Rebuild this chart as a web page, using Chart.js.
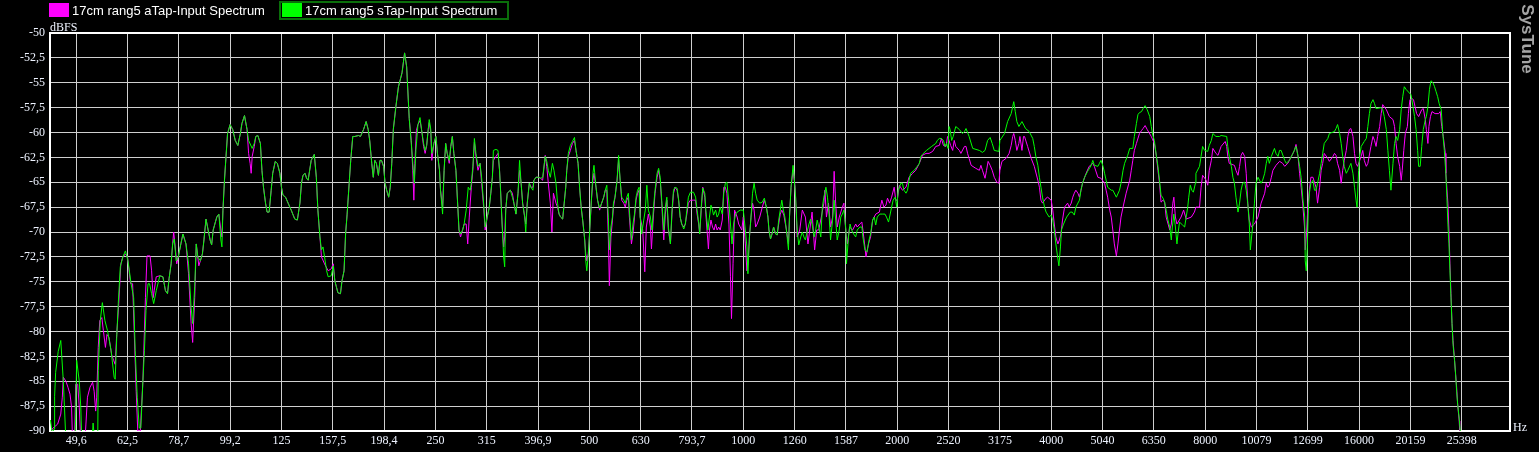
<!DOCTYPE html>
<html>
<head>
<meta charset="utf-8">
<title>Input Spectrum</title>
<script src="https://cdn.jsdelivr.net/npm/chart.js@4.4.1/dist/chart.umd.min.js"></script>
<style>
  html, body { margin: 0; padding: 0; background: #000; }
  #wrap { position: relative; width: 1539px; height: 452px; overflow: hidden; background: #000; }
  #chart { position: absolute; left: 0; top: 0; }
  .swatch { position: absolute; width: 20px; height: 14px; top: 3px; }
  .lgText { position: absolute; top: 3px; line-height: 16px; font: 13px "Liberation Sans", Arial, sans-serif; color: #fff; white-space: nowrap; }
  #lgBox { position: absolute; left: 279px; top: 1px; width: 230px; height: 19px; box-sizing: border-box; border: 2px solid #0a6e0a; }
  .axisName { position: absolute; font: 12px "Liberation Serif", "Times New Roman", serif; color: #eef3ff; line-height: 14px; }
  #brand { position: absolute; left: 1487px; top: 30px; width: 82px; height: 18px; line-height: 18px; text-align: center;
           font: bold 17px "Liberation Sans", Arial, sans-serif; color: #a4a4a4; transform: rotate(90deg); transform-origin: 41px 9px; }
</style>
</head>
<body>
<div id="wrap">
  <canvas id="chart" width="1539" height="452"></canvas>
  <div id="lgBox"></div>
  <div class="swatch" style="left:49px; background:#ff00ff;"></div>
  <div class="lgText" id="lg0" style="left:72px;"></div>
  <div class="swatch" style="left:282px; background:#00ff00;"></div>
  <div class="lgText" id="lg1" style="left:305px;"></div>
  <div class="axisName" style="left:50px; top:20px;">dBFS</div>
  <div class="axisName" style="left:1513px; top:420px;">Hz</div>
  <div id="brand">SysTune</div>
</div>
<script>
// x values are third-octave band numbers relative to 1 kHz (0 = 1000 Hz)
const seriesNames = ['17cm rang5 aTap-Input Spectrum', '17cm rang5 sTap-Input Spectrum'];
const bandTicks = [-13,-12,-11,-10,-9,-8,-7,-6,-5,-4,-3,-2,-1,0,1,2,3,4,5,6,7,8,9,10,11,12,13,14];
const freqLabels = ['49,6','62,5','78,7','99,2','125','157,5','198,4','250','315','396,9','500','630','793,7',
  '1000','1260','1587','2000','2520','3175','4000','5040','6350','8000','10079','12699','16000','20159','25398'];
const dbRange = [-90, -50];

// [band, dBFS]
const sTap = [
  [-13.53,-89.6],[-13.50,-88.9],[-13.47,-90.2],[-13.43,-89.8],[-13.42,-86.5],[-13.40,-84.1],[-13.35,-82.0],[-13.30,-80.9],[-13.25,-85.0],[-13.20,-91],[-13.02,-91],
  [-12.99,-82.9],[-12.94,-85.0],[-12.91,-87.6],[-12.89,-91],[-12.69,-91],[-12.67,-89.2],[-12.64,-91],[-12.58,-91],[-12.57,-83.9],[-12.53,-78.9],[-12.49,-77.1],
  [-12.44,-78.9],[-12.39,-79.9],[-12.32,-81.9],[-12.26,-84.6],[-12.24,-84.8],[-12.21,-80.6],[-12.18,-77.2],[-12.14,-73.5],[-12.09,-72.5],[-12.04,-71.9],
  [-11.99,-72.9],[-11.93,-75.2],[-11.88,-76.6],[-11.85,-81.9],[-11.81,-86.6],[-11.77,-89.7],[-11.74,-89.7],[-11.70,-85.0],[-11.67,-81.9],[-11.64,-77.9],
  [-11.60,-75.2],[-11.57,-75.2],[-11.53,-76.2],[-11.49,-77.2],[-11.44,-75.9],[-11.37,-74.4],[-11.31,-74.5],[-11.26,-75.9],[-11.22,-76.2],[-11.19,-74.7],
  [-11.15,-73.2],[-11.12,-71.2],[-11.09,-70.7],[-11.05,-72.9],[-11.01,-72.5],[-10.96,-71.2],[-10.92,-70.2],[-10.86,-71.2],[-10.81,-73.2],[-10.76,-77.6],
  [-10.73,-79.2],[-10.69,-75.5],[-10.66,-71.2],[-10.63,-72.5],[-10.58,-72.9],[-10.54,-72.2],[-10.51,-70.8],[-10.47,-68.7],[-10.44,-69.5],[-10.39,-70.8],
  [-10.36,-71.3],[-10.33,-69.8],[-10.26,-68.5],[-10.22,-68.2],[-10.18,-70.8],[-10.16,-71.5],[-10.14,-67.8],[-10.11,-64.8],[-10.08,-62.4],[-10.05,-60.1],
  [-10.00,-59.2],[-9.95,-59.7],[-9.90,-60.8],[-9.85,-61.3],[-9.80,-60.1],[-9.77,-59.1],[-9.72,-58.3],[-9.67,-59.7],[-9.64,-60.8],[-9.57,-61.6],[-9.53,-61.1],
  [-9.50,-60.4],[-9.46,-60.3],[-9.41,-61.1],[-9.38,-63.8],[-9.35,-65.5],[-9.31,-67.1],[-9.28,-68.0],[-9.24,-68.0],[-9.20,-65.8],[-9.17,-64.1],[-9.12,-62.9],
  [-9.08,-63.1],[-9.03,-64.1],[-9.00,-65.5],[-8.97,-66.3],[-8.92,-66.5],[-8.87,-67.1],[-8.81,-67.8],[-8.74,-68.7],[-8.69,-68.8],[-8.64,-67.1],[-8.61,-65.1],
  [-8.58,-64.3],[-8.54,-64.1],[-8.51,-64.6],[-8.48,-64.8],[-8.45,-63.8],[-8.42,-62.8],[-8.36,-62.2],[-8.32,-64.5],[-8.29,-67.8],[-8.25,-70.5],[-8.22,-71.8],
  [-8.19,-71.5],[-8.16,-72.5],[-8.12,-73.9],[-8.09,-74.5],[-8.03,-74.4],[-7.99,-73.4],[-7.96,-74.9],[-7.93,-75.5],[-7.90,-76.1],[-7.85,-76.2],[-7.82,-74.9],
  [-7.78,-73.9],[-7.75,-70.2],[-7.72,-68.2],[-7.68,-65.1],[-7.65,-62.8],[-7.61,-60.4],[-7.57,-60.4],[-7.50,-60.3],[-7.46,-60.4],[-7.40,-59.7],[-7.35,-58.9],
  [-7.31,-59.7],[-7.28,-60.8],[-7.24,-63.1],[-7.21,-64.5],[-7.18,-62.8],[-7.15,-63.1],[-7.11,-64.3],[-7.08,-62.8],[-7.05,-62.8],[-7.01,-63.4],[-6.98,-65.1],
  [-6.95,-65.8],[-6.91,-66.5],[-6.88,-65.5],[-6.85,-63.1],[-6.82,-59.7],[-6.77,-57.4],[-6.72,-55.4],[-6.65,-54.0],[-6.60,-52.0],[-6.56,-53.4],[-6.51,-58.6],
  [-6.47,-61.1],[-6.44,-63.1],[-6.41,-65.1],[-6.38,-61.8],[-6.34,-59.2],
  [-6.30,-58.5],[-6.27,-59.7],[-6.23,-61.1],[-6.20,-61.8],[-6.17,-61.3],[-6.14,-59.7],[-6.12,-58.7],[-6.09,-59.7],[-6.07,-62.1],[-6.03,-61.1],[-5.99,-60.4],
  [-5.96,-62.1],[-5.92,-63.8],[-5.90,-65.8],[-5.86,-68.2],[-5.83,-63.8],[-5.80,-61.1],[-5.77,-62.1],[-5.73,-62.8],[-5.70,-61.4],[-5.67,-60.4],[-5.64,-62.1],
  [-5.60,-63.8],[-5.57,-66.8],[-5.54,-69.8],[-5.51,-70.2],[-5.47,-69.8],[-5.44,-69.2],[-5.40,-67.8],[-5.36,-65.5],[-5.32,-65.8],[-5.30,-65.1],[-5.27,-63.4],
  [-5.24,-60.6],[-5.21,-62.1],[-5.17,-63.4],[-5.13,-63.1],[-5.10,-64.5],[-5.06,-67.1],[-5.03,-69.5],[-4.99,-68.5],[-4.95,-67.5],[-4.92,-66.1],[-4.89,-64.5],
  [-4.87,-61.8],[-4.82,-61.7],[-4.78,-61.8],[-4.75,-63.8],[-4.73,-65.8],[-4.70,-69.2],[-4.67,-72.5],[-4.65,-73.5],[-4.63,-67.8],[-4.60,-66.1],[-4.54,-65.8],
  [-4.50,-66.5],[-4.47,-67.1],[-4.43,-68.2],[-4.39,-66.1],[-4.36,-62.8],[-4.33,-65.1],[-4.30,-67.1],[-4.26,-68.5],[-4.24,-70.0],[-4.21,-67.1],[-4.17,-65.1],
  [-4.14,-65.5],[-4.10,-65.8],[-4.08,-64.8],[-4.04,-64.5],[-3.99,-64.5],[-3.95,-64.6],[-3.91,-64.5],[-3.86,-62.4],[-3.83,-62.9],[-3.80,-63.8],[-3.76,-64.5],
  [-3.72,-63.1],[-3.69,-63.8],[-3.65,-65.1],[-3.62,-67.1],[-3.59,-68.2],[-3.56,-68.5],[-3.52,-68.7],[-3.49,-67.1],[-3.46,-65.5],[-3.44,-63.8],[-3.41,-62.1],
  [-3.37,-61.3],[-3.33,-60.9],[-3.29,-60.5],[-3.26,-61.8],[-3.22,-63.1],[-3.19,-65.5],[-3.16,-67.5],[-3.13,-68.8],[-3.09,-70.8],[-3.07,-72.9],[-3.05,-73.9],
  [-3.02,-72.2],[-3.00,-70.5],[-2.96,-66.8],[-2.93,-64.1],[-2.91,-63.3],[-2.87,-65.5],[-2.84,-66.8],[-2.80,-67.6],[-2.76,-67.1],[-2.72,-66.5],[-2.69,-65.8],
  [-2.66,-65.3],[-2.63,-68.5],[-2.61,-71.8],[-2.58,-69.5],[-2.55,-68.5],[-2.53,-67.1],[-2.50,-66.5],[-2.46,-64.8],[-2.43,-62.3],[-2.40,-64.8],[-2.37,-66.5],
  [-2.33,-66.8],[-2.30,-67.1],[-2.27,-66.5],[-2.24,-66.1],[-2.22,-67.8],[-2.18,-70.8],[-2.15,-69.2],[-2.12,-68.2],[-2.09,-66.5],[-2.06,-65.8],[-2.03,-65.5],
  [-2.01,-68.5],[-1.98,-70.2],[-1.94,-68.8],[-1.91,-67.8],[-1.88,-65.3],[-1.85,-67.8],[-1.81,-68.5],[-1.78,-69.8],[-1.75,-67.5],[-1.72,-65.8],[-1.68,-64.1],
  [-1.65,-63.6],[-1.62,-64.5],[-1.59,-66.8],[-1.55,-69.8],[-1.52,-67.5],[-1.49,-66.5],[-1.46,-69.5],[-1.42,-71.2],[-1.39,-67.8],[-1.36,-65.8],[-1.33,-65.5],
  [-1.29,-65.6],[-1.26,-66.8],[-1.23,-68.5],[-1.20,-69.2],[-1.16,-69.7],[-1.13,-69.2],[-1.10,-67.8],[-1.07,-66.5],[-1.03,-66.0],[-0.97,-66.0],[-0.93,-66.5],
  [-0.90,-67.8],[-0.87,-69.0],[-0.85,-70.2],[-0.82,-67.5],[-0.79,-65.6],[-0.75,-66.1],[-0.73,-67.8],[-0.69,-69.8],[-0.66,-68.5],[-0.63,-67.3],[-0.60,-67.8],
  [-0.58,-68.3],[-0.54,-67.8],[-0.51,-68.5],[-0.48,-68.2],[-0.45,-67.5],[-0.41,-68.2],[-0.38,-66.1],[-0.35,-65.1],[-0.32,-65.0],[-0.28,-67.1],[-0.25,-69.2],
  [-0.22,-71.2],[-0.19,-69.2],[-0.15,-68.2],[-0.12,-68.0],[-0.06,-67.8],[0.00,-67.8],[0.04,-69.8],[0.07,-71.5],[0.09,-74.2],[0.12,-70.5],[0.15,-68.5],
  [0.18,-66.1],[0.21,-65.1],[0.24,-66.1],[0.27,-66.8],[0.32,-67.1],[0.37,-67.0],[0.41,-66.6],[0.45,-67.5],[0.48,-68.5],[0.50,-69.8],[0.53,-70.7],[0.56,-70.2],
  [0.59,-69.5],[0.63,-70.2],[0.66,-70.3],[0.69,-68.8],[0.72,-67.8],
  [0.75,-66.8],[0.78,-67.8],[0.81,-68.5],[0.84,-69.8],[0.88,-71.8],[0.90,-68.5],[0.93,-65.5],[0.97,-63.3],[0.99,-64.5],[1.02,-66.5],[1.05,-69.8],[1.08,-71.3],
  [1.12,-70.5],[1.15,-70.0],[1.18,-70.5],[1.21,-70.8],[1.25,-69.8],[1.28,-69.2],[1.31,-68.7],[1.34,-69.2],[1.38,-70.5],[1.41,-69.8],[1.44,-68.8],[1.47,-69.5],
  [1.51,-70.5],[1.54,-67.5],[1.57,-66.5],[1.61,-65.5],[1.64,-66.5],[1.67,-68.2],[1.70,-70.8],[1.74,-68.8],[1.77,-66.8],[1.80,-68.8],[1.83,-70.8],[1.87,-69.8],
  [1.90,-68.5],[1.93,-68.2],[1.96,-67.8],[2.00,-69.8],[2.01,-73.2],[2.05,-70.5],[2.08,-69.2],[2.11,-69.8],[2.15,-70.2],[2.19,-70.5],[2.22,-69.8],[2.27,-69.5],
  [2.31,-69.5],[2.33,-70.5],[2.37,-71.8],[2.41,-72.0],[2.45,-70.8],[2.48,-70.2],[2.52,-68.8],[2.55,-68.5],[2.58,-69.3],[2.61,-68.5],[2.66,-68.2],[2.71,-68.2],
  [2.76,-68.2],[2.79,-68.5],[2.83,-69.0],[2.85,-68.5],[2.89,-67.5],[2.92,-66.8],[2.96,-66.5],[2.99,-67.5],[3.02,-65.8],[3.07,-65.1],[3.10,-65.1],[3.13,-65.8],
  [3.17,-66.1],[3.20,-65.8],[3.23,-64.8],[3.26,-64.1],[3.33,-63.8],[3.39,-63.4],[3.43,-63.1],[3.46,-62.4],[3.49,-62.2],[3.57,-61.8],[3.67,-61.4],[3.75,-61.1],
  [3.78,-60.8],[3.82,-60.6],[3.86,-60.6],[3.90,-60.8],[3.93,-61.4],[3.96,-61.1],[3.99,-61.6],[4.01,-59.4],[4.03,-59.7],[4.06,-60.8],[4.09,-60.4],[4.14,-59.4],
  [4.21,-59.7],[4.27,-60.1],[4.31,-59.9],[4.34,-59.6],[4.40,-60.4],[4.47,-61.6],[4.60,-61.8],[4.66,-62.0],[4.71,-61.8],[4.76,-60.8],[4.81,-60.5],[4.85,-61.1],
  [4.89,-61.8],[4.98,-61.9],[5.00,-60.8],[5.09,-60.1],[5.15,-58.9],[5.22,-58.1],[5.25,-57.4],[5.27,-56.9],[5.30,-57.9],[5.33,-58.9],[5.37,-59.4],[5.43,-58.9],
  [5.50,-59.6],[5.57,-59.9],[5.64,-60.6],[5.67,-61.4],[5.70,-62.4],[5.74,-63.3],[5.77,-64.5],[5.80,-65.5],[5.83,-66.5],[5.87,-67.5],[5.90,-68.0],[5.96,-68.5],
  [6.00,-68.3],[6.03,-68.8],[6.06,-69.8],[6.09,-71.2],[6.13,-72.7],[6.15,-73.4],[6.18,-71.5],[6.20,-69.8],[6.24,-69.2],[6.30,-68.5],[6.37,-68.0],[6.41,-68.0],
  [6.45,-68.3],[6.48,-67.5],[6.55,-66.8],[6.58,-65.8],[6.61,-65.1],[6.65,-64.5],[6.71,-63.9],[6.78,-63.3],[6.81,-62.8],[6.84,-63.3],[6.91,-63.4],[6.94,-63.1],
  [6.97,-62.8],[7.01,-63.4],[7.04,-64.1],[7.07,-64.8],[7.10,-65.5],[7.17,-65.8],[7.20,-65.8],[7.27,-66.5],[7.33,-65.8],[7.36,-65.1],[7.40,-63.8],[7.43,-63.1],
  [7.49,-62.3],[7.53,-61.6],[7.59,-61.6],[7.62,-60.4],[7.66,-59.1],[7.69,-58.2],[7.72,-58.0],[7.76,-57.9],
  [7.79,-57.6],[7.83,-57.3],[7.87,-57.7],[7.92,-58.4],[7.95,-59.4],[7.98,-60.3],[8.01,-60.8],[8.05,-62.4],[8.08,-63.4],[8.11,-64.8],[8.14,-66.3],[8.18,-66.6],
  [8.21,-67.0],[8.24,-67.8],[8.27,-68.7],[8.31,-69.5],[8.34,-70.8],[8.36,-69.5],[8.39,-68.2],[8.42,-69.5],[8.45,-71.2],[8.47,-70.2],[8.50,-69.0],[8.56,-69.3],
  [8.60,-69.5],[8.63,-68.5],[8.66,-67.5],[8.68,-66.5],[8.71,-65.3],[8.74,-65.8],[8.77,-66.0],[8.81,-65.1],[8.82,-64.1],[8.89,-63.4],[8.92,-62.4],[8.95,-61.4],
  [8.99,-61.8],[9.05,-61.9],[9.08,-61.3],[9.12,-60.8],[9.15,-60.1],[9.21,-60.4],[9.28,-60.4],[9.31,-60.3],[9.42,-60.4],[9.44,-61.4],[9.47,-62.4],[9.51,-63.4],
  [9.54,-64.5],[9.57,-65.1],[9.60,-66.5],[9.64,-68.0],[9.67,-67.1],[9.70,-65.8],[9.73,-65.1],[9.77,-65.0],[9.80,-65.8],[9.83,-67.1],[9.86,-69.2],[9.88,-71.8],
  [9.91,-70.2],[9.93,-69.2],[9.96,-67.1],[9.99,-65.1],[10.03,-64.5],[10.09,-65.1],[10.12,-64.8],[10.16,-64.1],[10.19,-63.1],[10.22,-62.4],[10.25,-63.1],
  [10.29,-62.4],[10.35,-61.6],[10.38,-62.1],[10.42,-62.4],[10.45,-61.8],[10.48,-61.8],[10.55,-62.8],[10.58,-63.1],[10.64,-62.8],[10.71,-62.1],[10.77,-61.4],
  [10.81,-62.4],[10.84,-63.4],[10.87,-64.5],[10.90,-66.5],[10.94,-68.5],[10.95,-72.9],[10.97,-73.9],[10.99,-71.5],[11.01,-67.8],[11.03,-66.1],[11.06,-65.1],
  [11.10,-64.8],[11.13,-65.8],[11.16,-65.8],[11.19,-65.1],[11.23,-64.1],[11.26,-63.1],[11.29,-62.1],[11.32,-61.1],[11.39,-60.6],[11.42,-60.1],[11.52,-59.9],
  [11.55,-59.6],[11.58,-59.2],[11.62,-60.1],[11.65,-61.1],[11.68,-62.4],[11.71,-63.4],[11.75,-64.1],[11.78,-63.8],[11.84,-63.1],[11.88,-64.1],[11.91,-65.5],
  [11.94,-66.8],[11.96,-67.5],[11.99,-63.8],[12.01,-62.4],[12.04,-61.4],[12.10,-60.9],[12.14,-60.6],[12.17,-59.4],[12.20,-58.1],[12.23,-57.1],[12.27,-56.7],
  [12.30,-57.1],[12.33,-57.6],[12.43,-57.5],[12.46,-57.7],[12.49,-58.4],[12.53,-59.7],[12.56,-61.8],[12.59,-63.8],[12.62,-65.8],[12.66,-63.1],[12.69,-61.1],
  [12.72,-60.4],[12.75,-60.8],[12.79,-59.7],[12.82,-57.7],[12.85,-56.4],[12.88,-55.4],[12.92,-55.7],[13.01,-56.2],[13.05,-57.4],[13.08,-58.4],[13.11,-59.7],
  [13.14,-61.8],[13.16,-63.4],[13.19,-63.4],[13.22,-61.4],[13.25,-59.7],[13.29,-58.7],[13.31,-58.4],[13.34,-57.4],[13.37,-55.7],[13.40,-54.8],[13.44,-55.0],
  [13.47,-55.4],[13.50,-55.9],[13.53,-56.4],[13.56,-57.1],[13.60,-57.7],[13.63,-60.1],[13.66,-61.8],[13.69,-64.1],[13.71,-66.5],[13.73,-69.2],[13.75,-71.2],
  [13.77,-73.9],[13.79,-76.6],[13.81,-79.2],[13.83,-81.3],[13.86,-82.9],[13.88,-84.3],[13.90,-86.0],[13.92,-87.3],[13.95,-88.7],[13.97,-90.0],[14.02,-92]
];

const aTap = [
  [-13.53,-91],[-13.47,-89.8],[-13.36,-89.3],[-13.30,-88.3],[-13.27,-86.6],[-13.25,-84.6],[-13.20,-85.0],[-13.16,-85.6],[-13.12,-86.3],[-13.09,-87.6],
  [-13.07,-91],[-13.03,-91],[-13.01,-85.3],[-12.97,-85.3],[-12.94,-87.6],[-12.91,-91],[-12.83,-91],[-12.81,-89.3],[-12.78,-86.6],[-12.73,-85.6],[-12.68,-85.1],
  [-12.65,-86.0],[-12.62,-88.0],[-12.60,-86.6],[-12.57,-81.6],[-12.54,-78.9],[-12.50,-78.6],[-12.47,-79.9],[-12.43,-81.6],[-12.40,-80.3],[-12.36,-80.6],
  [-12.31,-82.3],[-12.27,-82.9],[-12.24,-83.3],[-12.21,-80.3],[-12.17,-77.2],[-12.13,-73.2],[-12.09,-72.5],[-12.04,-72.2],[-12.00,-72.5],[-11.94,-75.2],
  [-11.90,-75.2],[-11.87,-79.9],[-11.83,-86.0],[-11.80,-90],[-11.75,-90],[-11.70,-85.0],[-11.65,-76.6],[-11.62,-72.4],[-11.56,-72.4],[-11.53,-73.9],
  [-11.50,-76.6],[-11.48,-75.9],[-11.44,-74.5],[-11.37,-74.4],[-11.31,-74.5],[-11.26,-75.9],[-11.22,-76.2],[-11.19,-74.7],[-11.15,-73.2],[-11.12,-71.2],
  [-11.10,-70.0],[-11.07,-71.5],[-11.04,-73.2],[-11.01,-72.5],[-10.96,-71.2],[-10.92,-70.2],[-10.86,-71.2],[-10.81,-74.2],[-10.76,-79.2],[-10.73,-81.1],
  [-10.69,-76.6],[-10.66,-71.2],[-10.61,-73.4],[-10.58,-72.9],[-10.54,-72.2],[-10.51,-70.8],[-10.47,-68.7],[-10.44,-69.5],[-10.39,-70.8],[-10.36,-71.3],
  [-10.33,-69.8],[-10.26,-68.5],[-10.22,-68.2],[-10.18,-69.8],[-10.16,-70.5],[-10.14,-67.8],[-10.11,-64.8],[-10.08,-62.4],[-10.05,-60.1],[-10.00,-59.2],
  [-9.95,-59.7],[-9.90,-60.8],[-9.85,-61.3],[-9.80,-60.1],[-9.77,-59.1],[-9.72,-58.3],[-9.67,-59.7],[-9.64,-62.1],[-9.61,-63.1],[-9.59,-64.1],[-9.57,-62.4],
  [-9.53,-61.4],[-9.50,-60.4],[-9.46,-60.3],[-9.41,-61.1],[-9.38,-63.8],[-9.35,-65.5],[-9.31,-67.1],[-9.28,-68.0],[-9.24,-68.0],[-9.20,-65.8],[-9.17,-64.1],
  [-9.12,-62.9],[-9.08,-63.1],[-9.03,-64.1],[-9.00,-65.5],[-8.97,-66.3],[-8.92,-66.5],[-8.87,-67.1],[-8.81,-67.8],[-8.74,-68.7],[-8.69,-68.8],[-8.64,-67.1],
  [-8.61,-65.1],[-8.58,-64.3],[-8.54,-64.1],[-8.51,-64.6],[-8.48,-64.8],[-8.45,-63.8],[-8.42,-62.8],[-8.36,-62.2],[-8.32,-64.5],[-8.29,-67.8],[-8.25,-70.5],
  [-8.22,-72.5],[-8.16,-73.2],[-8.09,-73.9],[-8.03,-73.7],[-7.99,-73.2],[-7.96,-74.9],[-7.93,-75.5],[-7.90,-76.1],[-7.85,-76.2],[-7.82,-74.9],[-7.78,-73.9],
  [-7.75,-70.2],[-7.72,-68.2],[-7.68,-65.1],[-7.65,-62.8],[-7.61,-60.4],[-7.57,-60.4],[-7.50,-60.3],[-7.46,-60.4],[-7.40,-59.7],[-7.35,-58.9],[-7.31,-59.7],
  [-7.28,-60.8],[-7.24,-63.1],[-7.21,-64.5],[-7.18,-62.8],[-7.15,-63.1],[-7.11,-64.3],[-7.08,-62.8],[-7.05,-62.8],[-7.01,-63.4],[-6.98,-65.1],[-6.95,-65.8],
  [-6.91,-66.5],[-6.88,-65.5],[-6.85,-63.1],[-6.82,-59.7],[-6.77,-57.4],[-6.72,-55.4],[-6.65,-54.0],[-6.60,-52.0],[-6.56,-53.4],[-6.51,-58.6],[-6.47,-60.8],
  [-6.44,-63.8],[-6.42,-66.8],[-6.40,-63.1],[-6.37,-59.8],[-6.34,-59.2],
  [-6.30,-58.8],[-6.27,-59.7],[-6.23,-61.4],[-6.20,-62.1],[-6.17,-61.3],[-6.14,-59.7],[-6.12,-59.0],[-6.09,-60.0],[-6.07,-62.8],[-6.03,-61.1],[-5.99,-60.4],
  [-5.96,-62.1],[-5.92,-63.8],[-5.90,-65.8],[-5.86,-67.5],[-5.83,-63.8],[-5.80,-61.1],[-5.77,-62.1],[-5.73,-63.1],[-5.70,-61.4],[-5.67,-60.4],[-5.64,-62.1],
  [-5.60,-63.8],[-5.57,-66.8],[-5.54,-69.8],[-5.51,-70.5],[-5.47,-69.8],[-5.44,-69.2],[-5.40,-69.2],[-5.37,-71.2],[-5.34,-68.5],[-5.30,-65.5],[-5.27,-63.8],
  [-5.24,-61.0],[-5.21,-62.4],[-5.17,-63.8],[-5.13,-63.1],[-5.10,-65.1],[-5.06,-67.5],[-5.03,-69.8],[-4.99,-68.5],[-4.95,-67.5],[-4.92,-66.1],[-4.89,-64.5],
  [-4.87,-62.8],[-4.82,-62.4],[-4.78,-62.1],[-4.75,-63.8],[-4.73,-65.8],[-4.70,-69.2],[-4.67,-71.5],[-4.65,-70.5],[-4.63,-67.8],[-4.60,-66.1],[-4.54,-65.8],
  [-4.50,-66.1],[-4.47,-67.1],[-4.43,-68.2],[-4.39,-66.1],[-4.36,-63.8],[-4.33,-65.1],[-4.30,-67.1],[-4.26,-68.5],[-4.24,-69.2],[-4.21,-67.1],[-4.17,-65.1],
  [-4.14,-65.5],[-4.10,-65.5],[-4.08,-64.8],[-4.04,-64.5],[-3.99,-64.5],[-3.95,-64.6],[-3.91,-64.8],[-3.86,-62.3],[-3.83,-63.4],[-3.80,-65.1],[-3.76,-67.1],
  [-3.73,-70.0],[-3.70,-66.1],[-3.65,-67.1],[-3.62,-67.5],[-3.59,-68.2],[-3.56,-68.5],[-3.52,-68.7],[-3.49,-67.1],[-3.46,-65.5],[-3.44,-63.8],[-3.41,-62.4],
  [-3.37,-61.8],[-3.33,-61.1],[-3.29,-60.8],[-3.26,-61.8],[-3.22,-63.1],[-3.19,-65.5],[-3.16,-67.5],[-3.13,-68.8],[-3.09,-70.8],[-3.07,-72.2],[-3.05,-72.9],
  [-3.02,-72.2],[-3.00,-70.5],[-2.96,-66.8],[-2.93,-64.8],[-2.91,-64.1],[-2.87,-65.5],[-2.84,-66.8],[-2.80,-67.8],[-2.76,-67.1],[-2.72,-66.5],[-2.69,-65.8],
  [-2.66,-65.8],[-2.63,-70.5],[-2.61,-75.4],[-2.58,-70.5],[-2.55,-68.8],[-2.53,-67.5],[-2.50,-66.5],[-2.46,-64.8],[-2.43,-62.8],[-2.40,-64.8],[-2.37,-66.8],
  [-2.33,-67.1],[-2.30,-67.5],[-2.27,-66.8],[-2.24,-66.5],[-2.22,-68.5],[-2.18,-71.2],[-2.15,-70.2],[-2.12,-68.5],[-2.09,-66.8],[-2.06,-66.1],[-2.03,-65.8],
  [-2.01,-68.5],[-1.96,-69.8],[-1.92,-74.0],[-1.89,-69.5],[-1.85,-68.2],[-1.81,-69.5],[-1.79,-71.7],[-1.75,-68.2],[-1.72,-66.1],[-1.68,-64.5],[-1.65,-63.8],
  [-1.62,-64.8],[-1.59,-67.1],[-1.55,-70.8],[-1.52,-68.2],[-1.49,-66.8],[-1.46,-69.8],[-1.42,-71.2],[-1.39,-68.2],[-1.36,-66.1],[-1.33,-65.5],[-1.29,-65.8],
  [-1.26,-66.8],[-1.23,-68.5],[-1.20,-69.2],[-1.16,-69.5],[-1.13,-69.2],[-1.10,-68.2],[-1.07,-67.1],[-1.03,-66.8],[-0.97,-66.8],[-0.93,-66.8],[-0.90,-68.2],
  [-0.87,-69.2],[-0.85,-70.2],[-0.82,-67.8],[-0.79,-65.5],[-0.75,-66.5],[-0.73,-68.2],[-0.68,-71.7],[-0.66,-69.8],[-0.63,-68.8],[-0.60,-69.5],[-0.57,-69.8],
  [-0.54,-69.2],[-0.51,-69.8],[-0.48,-69.5],[-0.45,-69.8],[-0.41,-68.8],[-0.38,-65.5],[-0.35,-65.5],[-0.32,-66.1],[-0.28,-69.2],[-0.25,-74.5],[-0.23,-78.7],
  [-0.20,-73.2],[-0.17,-67.8],[-0.12,-68.5],[-0.09,-69.2],[-0.03,-69.8],[0.00,-68.5],[0.04,-71.2],[0.07,-73.9],[0.09,-73.2],[0.12,-70.5],[0.15,-68.5],
  [0.18,-67.1],[0.21,-67.8],[0.24,-69.5],[0.27,-69.2],[0.32,-68.5],[0.37,-67.5],[0.41,-66.8],[0.45,-67.5],[0.48,-68.5],[0.50,-69.8],[0.53,-70.7],[0.56,-70.2],
  [0.59,-69.5],[0.63,-70.2],[0.66,-70.3],[0.69,-69.2],[0.72,-68.2],
  [0.75,-67.8],[0.79,-68.3],[0.84,-69.8],[0.88,-71.2],[0.90,-68.5],[0.93,-65.5],[0.97,-63.8],[1.01,-65.5],[1.05,-70.5],[1.10,-69.8],[1.15,-67.8],[1.21,-68.5],
  [1.26,-71.2],[1.31,-69.2],[1.34,-68.0],[1.39,-71.8],[1.43,-69.8],[1.47,-69.8],[1.52,-68.5],[1.57,-67.1],[1.59,-65.8],[1.62,-68.5],[1.66,-67.1],[1.70,-69.5],
  [1.74,-68.5],[1.77,-63.9],[1.80,-67.1],[1.83,-69.5],[1.87,-68.5],[1.93,-67.5],[1.96,-67.1],[2.00,-70.2],[2.03,-71.2],[2.07,-69.5],[2.13,-69.8],[2.19,-69.2],
  [2.22,-69.5],[2.27,-69.2],[2.31,-69.0],[2.33,-69.8],[2.37,-71.5],[2.39,-72.5],[2.44,-71.2],[2.48,-70.5],[2.52,-68.8],[2.58,-68.2],[2.65,-68.0],[2.70,-66.8],
  [2.74,-67.5],[2.78,-67.3],[2.81,-66.6],[2.85,-67.1],[2.89,-66.5],[2.94,-65.5],[2.97,-66.8],[3.00,-66.8],[3.04,-65.3],[3.10,-65.8],[3.17,-65.5],[3.23,-64.5],
  [3.30,-64.1],[3.36,-63.8],[3.43,-63.1],[3.49,-62.3],[3.56,-62.1],[3.62,-62.1],[3.69,-61.9],[3.75,-61.4],[3.82,-61.3],[3.86,-60.6],[3.90,-61.3],[3.95,-61.4],
  [3.98,-60.4],[4.01,-60.8],[4.04,-61.3],[4.08,-61.8],[4.11,-60.8],[4.14,-61.4],[4.21,-61.8],[4.24,-62.1],[4.31,-61.4],[4.34,-61.4],[4.37,-62.1],[4.40,-62.6],
  [4.44,-63.3],[4.53,-63.6],[4.60,-63.8],[4.63,-63.3],[4.66,-63.8],[4.71,-64.6],[4.74,-63.8],[4.77,-62.9],[4.81,-63.3],[4.85,-63.8],[4.89,-64.5],[4.94,-65.0],
  [4.98,-65.1],[5.00,-63.8],[5.04,-62.9],[5.12,-62.6],[5.18,-62.1],[5.22,-61.3],[5.25,-60.4],[5.27,-60.1],[5.30,-60.8],[5.33,-61.8],[5.37,-61.1],[5.39,-60.4],
  [5.43,-61.8],[5.46,-60.4],[5.48,-60.4],[5.54,-61.4],[5.61,-62.6],[5.67,-63.4],[5.74,-64.8],[5.77,-65.5],[5.80,-66.8],[5.83,-67.1],[5.90,-66.6],[5.93,-66.5],
  [6.00,-66.8],[6.03,-67.8],[6.06,-69.2],[6.09,-70.5],[6.13,-71.2],[6.16,-70.8],[6.19,-70.2],[6.22,-68.8],[6.26,-67.5],[6.32,-67.1],[6.35,-67.5],[6.39,-67.1],
  [6.42,-66.5],[6.45,-66.1],[6.48,-65.8],[6.52,-66.1],[6.55,-66.5],[6.58,-65.8],[6.61,-65.1],[6.68,-64.1],[6.74,-63.4],[6.81,-63.1],[6.84,-63.4],[6.91,-64.5],
  [6.97,-64.6],[7.04,-65.1],[7.07,-65.8],[7.10,-66.5],[7.14,-67.8],[7.17,-68.5],[7.20,-69.8],[7.23,-71.2],[7.27,-72.4],[7.30,-71.2],[7.33,-69.8],[7.36,-68.5],
  [7.40,-67.5],[7.46,-66.1],[7.53,-64.8],[7.56,-63.8],[7.59,-62.8],[7.62,-61.8],[7.66,-61.1],[7.72,-60.1],[7.76,-59.8],
  [7.79,-59.6],[7.83,-59.3],[7.87,-59.7],[7.95,-60.4],[8.01,-61.1],[8.05,-62.4],[8.08,-63.8],[8.11,-65.1],[8.14,-67.0],[8.18,-66.8],[8.21,-67.0],[8.24,-68.5],
  [8.31,-69.8],[8.34,-69.2],[8.37,-67.1],[8.39,-66.5],[8.42,-68.5],[8.45,-69.2],[8.53,-68.5],[8.58,-67.8],[8.63,-68.7],[8.73,-68.5],[8.79,-68.0],[8.82,-67.5],
  [8.89,-67.5],[8.92,-65.5],[8.95,-64.3],[9.02,-64.8],[9.05,-65.3],[9.08,-63.8],[9.12,-62.8],[9.15,-61.6],[9.21,-62.1],[9.25,-62.3],[9.31,-61.4],[9.39,-60.9],
  [9.42,-61.4],[9.44,-62.4],[9.47,-63.1],[9.57,-63.3],[9.60,-63.8],[9.64,-64.3],[9.67,-63.4],[9.70,-62.3],[9.73,-62.0],[9.77,-62.4],[9.80,-64.1],[9.83,-67.1],
  [9.86,-68.8],[9.90,-69.5],[9.96,-69.2],[10.03,-68.5],[10.09,-67.1],[10.16,-66.1],[10.19,-65.1],[10.22,-65.5],[10.25,-65.3],[10.29,-64.5],[10.32,-63.8],
  [10.38,-63.3],[10.45,-62.9],[10.51,-63.1],[10.55,-63.4],[10.61,-63.1],[10.68,-62.4],[10.74,-61.8],[10.77,-61.2],[10.81,-62.4],[10.84,-64.1],[10.87,-65.5],
  [10.90,-67.1],[10.94,-69.8],[10.95,-71.8],[10.98,-69.8],[11.00,-67.5],[11.03,-65.8],[11.06,-64.5],[11.10,-64.5],[11.16,-65.5],[11.19,-67.1],[11.23,-65.5],
  [11.26,-63.8],[11.29,-63.1],[11.32,-62.1],[11.39,-62.6],[11.42,-62.9],[11.49,-62.4],[11.52,-62.1],[11.55,-62.3],[11.58,-63.1],[11.62,-63.8],[11.65,-65.1],
  [11.68,-63.8],[11.71,-62.8],[11.75,-61.8],[11.78,-60.4],[11.81,-59.7],[11.84,-59.6],[11.88,-60.4],[11.91,-62.1],[11.94,-63.1],[11.97,-63.4],[12.04,-62.4],
  [12.07,-61.8],[12.10,-62.8],[12.14,-63.4],[12.17,-63.1],[12.23,-61.4],[12.27,-60.4],[12.30,-60.8],[12.33,-61.4],[12.36,-60.4],[12.40,-59.4],[12.43,-58.1],
  [12.46,-57.2],[12.53,-57.7],[12.59,-58.4],[12.66,-58.7],[12.69,-59.4],[12.72,-61.1],[12.75,-62.4],[12.79,-63.4],[12.82,-64.8],[12.84,-63.8],[12.87,-61.8],
  [12.90,-60.1],[12.94,-59.4],[12.96,-58.1],[12.99,-56.7],[13.03,-56.6],[13.06,-56.7],[13.09,-57.4],[13.12,-58.1],[13.16,-58.4],[13.22,-57.7],[13.25,-57.6],
  [13.29,-58.7],[13.31,-59.7],[13.34,-61.1],[13.36,-59.4],[13.39,-58.4],[13.42,-57.9],[13.48,-58.1],[13.55,-58.1],[13.58,-57.9],[13.61,-59.4],[13.64,-60.4],
  [13.68,-62.1],[13.69,-64.1],[13.73,-67.1],[13.75,-69.8],[13.77,-73.2],[13.79,-76.2],[13.81,-79.2],[13.83,-80.9],[13.86,-82.9],[13.88,-84.3],[13.90,-85.6],
  [13.92,-87.3],[13.95,-89.0],[13.96,-90.0],[13.99,-92]
];

document.getElementById('lg0').textContent = seriesNames[0];
document.getElementById('lg1').textContent = seriesNames[1];

const toPoints = arr => arr.map(([x, y]) => ({ x, y }));
const labelFont = { family: '"Liberation Serif", "Times New Roman", serif', size: 12 };

// white frame around the plot area
const framePlugin = {
  id: 'frame',
  beforeDatasetsDraw(chart) {
    const { ctx, chartArea: a } = chart;
    ctx.save();
    ctx.strokeStyle = '#ffffff';
    ctx.lineWidth = 2;
    ctx.strokeRect(a.left, a.top, a.right - a.left, a.bottom - a.top);
    ctx.restore();
  }
};

new Chart(document.getElementById('chart'), {
  type: 'line',
  data: {
    datasets: [
      { label: seriesNames[1], data: toPoints(sTap), borderColor: '#00ff00', borderWidth: 1, pointRadius: 0, tension: 0, order: 0 },
      { label: seriesNames[0], data: toPoints(aTap), borderColor: '#ff00ff', borderWidth: 1, pointRadius: 0, tension: 0, order: 1 }
    ]
  },
  options: {
    responsive: false,
    animation: false,
    devicePixelRatio: 1,
    events: [],
    layout: { padding: { top: 33, right: 29, left: 0, bottom: 0 } },
    plugins: { legend: { display: false }, tooltip: { enabled: false } },
    scales: {
      x: {
        type: 'linear',
        min: -13.51,
        max: 14.94,
        afterBuildTicks: axis => { axis.ticks = bandTicks.map(v => ({ value: v })); },
        afterFit: axis => { axis.height = 21; },
        ticks: {
          autoSkip: false, maxRotation: 0, padding: 3, color: '#eef3ff', font: labelFont,
          callback: v => freqLabels[bandTicks.indexOf(v)]
        },
        grid: { color: '#cfcfcf', lineWidth: 1, drawTicks: false },
        border: { display: false }
      },
      y: {
        min: dbRange[0],
        max: dbRange[1],
        afterFit: axis => { axis.width = 50; },
        ticks: {
          stepSize: 2.5, padding: 5, color: '#eef3ff', font: labelFont,
          callback: v => String(v).replace('.', ',')
        },
        grid: { color: '#cfcfcf', lineWidth: 1, drawTicks: false },
        border: { display: false }
      }
    }
  },
  plugins: [framePlugin]
});
</script>
</body>
</html>
